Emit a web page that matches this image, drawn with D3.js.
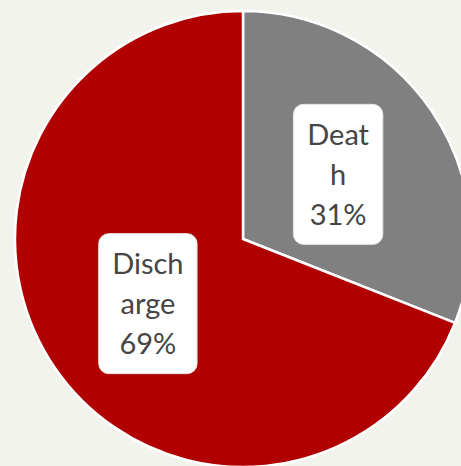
<!DOCTYPE html>
<html>
<head>
<meta charset="utf-8">
<script src="https://cdn.jsdelivr.net/npm/d3@7"></script>
<style>
  html, body { margin: 0; padding: 0; background: #f3f3ee; }
  svg { display: block; }
</style>
</head>
<body>
<div class="canvas"></div>
<script>
// data
const categories = ['Death', 'Discharge'];
const values = [31, 69];
const labelLines = [['Deat', 'h'], ['Disch', 'arge']]; // wrapped as in the original
const colors = ['#808080', '#b00000'];

const dims = { width: 461, height: 466, radius: 228 };
const center = { x: 243, y: 239 };

const svg = d3
  .select('.canvas')
  .append('svg')
  .attr('width', dims.width)
  .attr('height', dims.height);

svg.append('rect')
  .attr('width', dims.width)
  .attr('height', dims.height)
  .attr('fill', '#f3f3ee');

const graph = svg
  .append('g')
  .attr('transform', `translate(${center.x}, ${center.y})`);

const data = categories.map((name, i) => ({ name, value: values[i], lines: labelLines[i] }));

const pie = d3.pie().sort(null).value((d) => d.value);

const arcPath = d3.arc().innerRadius(0).outerRadius(dims.radius);
const labelArc = d3.arc().innerRadius(115).outerRadius(115);

const color = d3.scaleOrdinal().domain(categories).range(colors);

graph
  .selectAll('path')
  .data(pie(data))
  .enter()
  .append('path')
  .attr('d', arcPath)
  .attr('fill', (d) => color(d.data.name))
  .attr('stroke', '#fff')
  .attr('stroke-width', 2.5)
  .attr('stroke-linejoin', 'round');

// labels with white rounded boxes
const lineH = 40;
const labels = graph
  .selectAll('g.label')
  .data(pie(data))
  .enter()
  .append('g')
  .attr('class', 'label')
  .attr('transform', (d) => `translate(${labelArc.centroid(d)})`);

labels.each(function (d) {
  const g = d3.select(this);
  const total = d3.sum(values);
  const lines = [...d.data.lines, Math.round((d.data.value / total) * 100) + '%'];
  const box = g.append('rect');
  const text = g
    .append('text')
    .attr('text-anchor', 'middle')
    .attr('font-family', 'Lato, "Open Sans", sans-serif')
    .attr('font-size', 29)
    .attr('fill', '#454545');
  lines.forEach((l, i) => {
    text
      .append('tspan')
      .attr('x', 0)
      .attr('y', (i - (lines.length - 1) / 2) * lineH)
      .attr('dy', '0.36em')
      .text(l);
  });
  const bb = text.node().getBBox();
  const w = bb.width + 27;
  const h = lines.length * lineH + 20;
  box
    .attr('x', -w / 2)
    .attr('y', -h / 2)
    .attr('width', w)
    .attr('height', h)
    .attr('rx', 10)
    .attr('fill', '#fff')
    .attr('stroke', '#e6e6e6')
    .attr('stroke-width', 1);
});
</script>
</body>
</html>
